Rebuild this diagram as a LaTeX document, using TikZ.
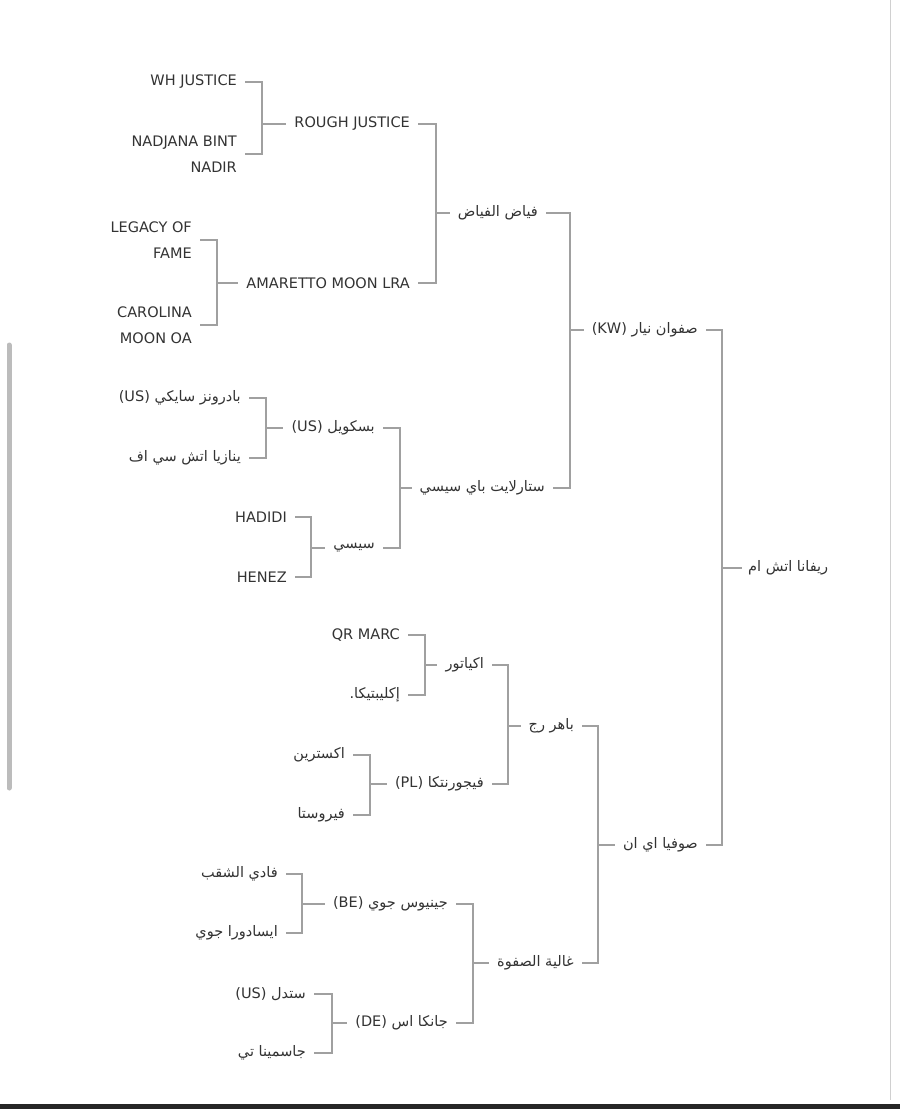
\documentclass[tikz,border=0pt]{standalone}
\usepackage{fontspec}
\setmainfont{DejaVu Sans}
\newfontfamily\arabicfont[Script=Arabic]{DejaVu Sans}
\TeXXeTstate=1
\newcommand{\ar}[1]{\arabicfont\beginR #1\endR}
\newcommand{\lt}[1]{\beginL #1\endL{}}
\definecolor{txt}{HTML}{333333}
\definecolor{ln}{HTML}{A0A0A0}
\begin{document}
\begin{tikzpicture}[x=1pt, y=-1pt,
	horse/.style={anchor=east, inner xsep=8pt, inner ysep=2pt, text=txt, align=right,
	  font=\fontsize{14.5}{26}\selectfont},
	root/.style={anchor=west, inner xsep=6pt, text=txt, font=\fontsize{14.5}{26}\selectfont},
	link/.style={draw=ln, line width=1.6pt}]
	  \fill[white] (0,0) rectangle (900,1109);
	  \useasboundingbox (0,0) rectangle (900,1109);
	  \draw[ln!50, line width=1pt] (890,0) -- (890,1100);
	  \draw[ln!70, line width=5pt, line cap=round] (9,345) -- (9,788);
	  \fill[black!85] (0,1104) rectangle (900,1109);
	  % generation 0
	  \node[root] (rv) at (742,568) {\ar{ريفانا اتش ام}};
	  % generation 1
	  \node[horse] (sf) at (706,330) {\ar{صفوان نيار \lt{(KW)}}};
	  \node[horse] (so) at (706,845) {\ar{صوفيا اي ان}};
	  % generation 2
	  \node[horse] (fy) at (546,213) {\ar{فياض الفياض}};
	  \node[horse] (st) at (553,488) {\ar{ستارلايت باي سيسي}};
	  \node[horse] (bh) at (582,726) {\ar{باهر رج}};
	  \node[horse] (gh) at (582,963) {\ar{غالية الصفوة}};
	  % generation 3
	  \node[horse] (rj) at (418,124) {ROUGH JUSTICE};
	  \node[horse] (am) at (418,283) {AMARETTO MOON LRA};
	  \node[horse] (bs) at (383,428) {\ar{بسكويل \lt{(US)}}};
	  \node[horse] (ss) at (383,548) {\ar{سيسي}};
	  \node[horse] (ak) at (492,665) {\ar{اكياتور}};
	  \node[horse] (fj) at (492,784) {\ar{فيجورنتكا \lt{(PL)}}};
	  \node[horse] (jg) at (456,904) {\ar{جينيوس جوي \lt{(BE)}}};
	  \node[horse] (jk) at (456,1023) {\ar{جانكا اس \lt{(DE)}}};
	  % generation 4
	  \node[horse] (wh) at (245,82) {WH JUSTICE};
	  \node[horse] (nb) at (245,154) {NADJANA BINT\\NADIR};
	  \node[horse] (lf) at (200,240) {LEGACY OF\\FAME};
	  \node[horse] (cm) at (200,325) {CAROLINA\\MOON OA};
	  \node[horse] (bd) at (249,398) {\ar{بادرونز سايكي \lt{(US)}}};
	  \node[horse] (yn) at (249,458) {\ar{ينازيا اتش سي اف}};
	  \node[horse] (hd) at (295,517) {HADIDI};
	  \node[horse] (hn) at (295,577) {HENEZ};
	  \node[horse] (qr) at (408,635) {QR MARC};
	  \node[horse] (ek) at (408,695) {\ar{إكليبتيكا.}};
	  \node[horse] (ks) at (353,755) {\ar{اكسترين}};
	  \node[horse] (fr) at (353,815) {\ar{فيروستا}};
	  \node[horse] (fd) at (286,874) {\ar{فادي الشقب}};
	  \node[horse] (is) at (286,933) {\ar{ايسادورا جوي}};
	  \node[horse] (sd) at (314,994) {\ar{ستدل \lt{(US)}}};
	  \node[horse] (js) at (314,1053) {\ar{جاسمينا تي}};
	  % brackets
	  \foreach \a/\b/\c/\bx in {sf/so/rv/722, fy/st/sf/570, bh/gh/so/598,
	      rj/am/fy/436, bs/ss/st/400, ak/fj/bh/508, jg/jk/gh/473,
	      wh/nb/rj/262, lf/cm/am/217, bd/yn/bs/266, hd/hn/ss/311,
	      qr/ek/ak/425, ks/fr/fj/370, fd/is/jg/302, sd/js/jk/332} {
	    \draw[link] (\a.east) -| (\bx,0 |- \c.west) -- (\c.west);
	    \draw[link] (\b.east) -| (\bx,0 |- \c.west);
	  }
\end{tikzpicture}
\end{document}
